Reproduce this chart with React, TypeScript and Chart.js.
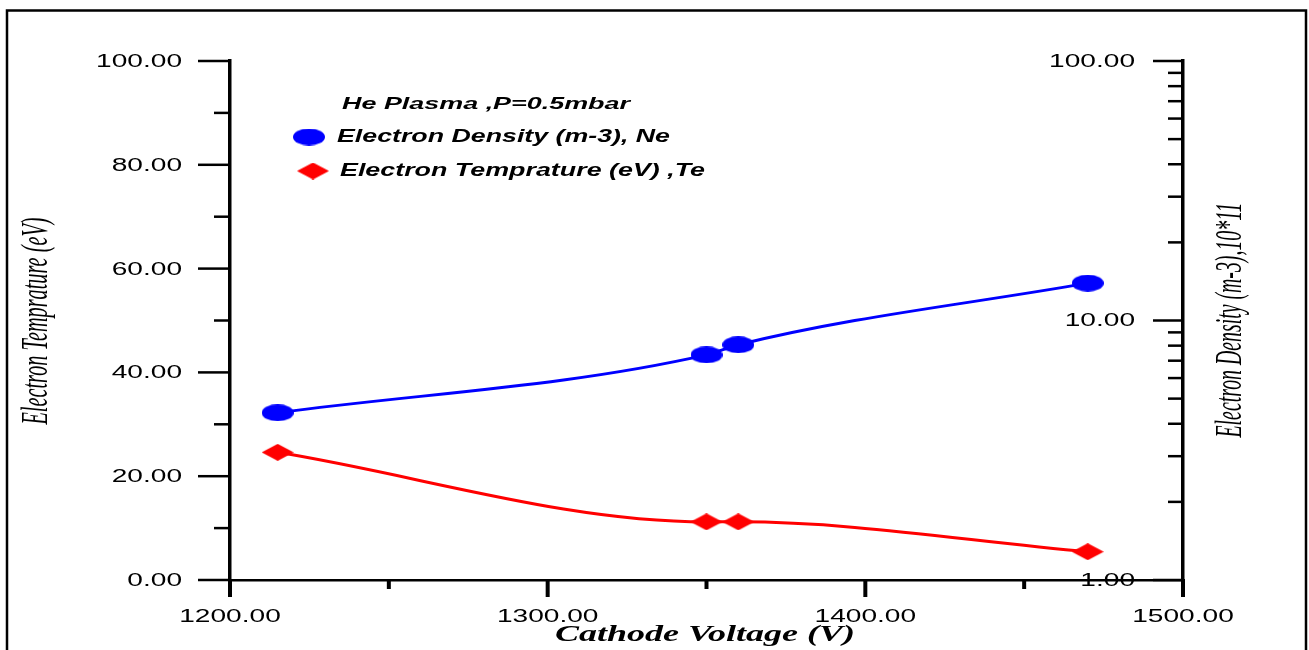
import React, { useEffect, useRef } from 'react';
import { Chart, registerables } from 'chart.js';

Chart.register(...registerables);

// ---- Data ----
const voltage = [1215, 1350, 1360, 1470];
const electronDensity = [4.41, 7.37, 8.06, 13.93];
const electronTemperature = [24.6, 11.2, 11.2, 5.45];

// ---- Ticks ----
const xMajorTicks = [1200, 1300, 1400, 1500];
const xMinorTicks = [1250, 1350, 1450];
const tempMajorTicks = [0, 20, 40, 60, 80, 100];
const tempMinorTicks = [10, 30, 50, 70, 90];
const densityMajorTicks = [1, 10, 100];
const densityMinorTicks = [2, 3, 4, 5, 6, 7, 8, 9, 20, 30, 40, 50, 60, 70, 80, 90];

// ---- Texts ----
const legendTitle = 'He Plasma ,P=0.5mbar';
const densityLabel = 'Electron Density (m-3), Ne';
const temperatureLabel = 'Electron Temprature (eV) ,Te';
const xTitle = 'Cathode Voltage (V)';
const yLeftTitle = 'Electron Temprature (eV)';
const yRightTitle = 'Electron Density (m-3),10*11';

const BLUE = '#0000ff';
const RED = '#ff0000';

function makeMarker(shape: string, color: string, w: number, h: number) {
  const c = document.createElement('canvas');
  c.width = w;
  c.height = h;
  const g = c.getContext('2d')!;
  g.fillStyle = color;
  g.beginPath();
  if (shape === 'ellipse') {
    g.ellipse(w / 2, h / 2, w / 2, h / 2, 0, 0, Math.PI * 2);
  } else {
    g.moveTo(w / 2, 0);
    g.lineTo(w, h / 2);
    g.lineTo(w / 2, h);
    g.lineTo(0, h / 2);
    g.closePath();
  }
  g.fill();
  return c;
}

function textH(ctx: CanvasRenderingContext2D, text: string, x: number, y: number, font: string, align: CanvasTextAlign, opts: { sx?: number; width?: number }) {
  ctx.save();
  ctx.font = font;
  const w = ctx.measureText(text).width;
  const sx = opts.width ? opts.width / w : opts.sx || 1;
  ctx.translate(x, y);
  ctx.scale(sx, 1);
  ctx.textAlign = align;
  ctx.textBaseline = 'middle';
  ctx.fillText(text, 0, 0);
  ctx.restore();
}

function textV(ctx: CanvasRenderingContext2D, text: string, cx: number, cy: number, font: string, thick: number, length: number) {
  ctx.save();
  ctx.font = font;
  const w = ctx.measureText(text).width;
  ctx.translate(cx, cy);
  ctx.scale(thick, length / w);
  ctx.rotate(-Math.PI / 2);
  ctx.textAlign = 'center';
  ctx.textBaseline = 'middle';
  ctx.fillText(text, 0, 0);
  ctx.restore();
}

function line(ctx: CanvasRenderingContext2D, x1: number, y1: number, x2: number, y2: number, w: number) {
  ctx.lineWidth = w;
  ctx.beginPath();
  ctx.moveTo(x1, y1);
  ctx.lineTo(x2, y2);
  ctx.stroke();
}

const fmt = (v: number) => v.toFixed(2);

export default function App() {
  const ref = useRef<HTMLCanvasElement | null>(null);

  useEffect(() => {
    const canvas = ref.current!;
    const blueMarker = makeMarker('ellipse', BLUE, 32, 17);
    const redMarker = makeMarker('diamond', RED, 32, 17);

    const TICK_FONT = '18px "Liberation Sans", Arial, sans-serif';
    const TICK_SX = 1.56;
    const VTITLE_FONT = 'italic 24px "Liberation Serif", "Times New Roman", serif';

    const decor = {
      id: 'decor',
      afterDraw(chart: any) {
        const ctx: CanvasRenderingContext2D = chart.ctx;
        const xs = chart.scales.x;
        const yl = chart.scales.y;
        const yr = chart.scales.y1;
        const { left: L, right: R, bottom: B } = chart.chartArea;
        ctx.save();
        ctx.strokeStyle = '#000';
        ctx.fillStyle = '#000';
        ctx.lineCap = 'butt';

        // outer frame
        ctx.lineWidth = 2.5;
        ctx.beginPath();
        ctx.moveTo(7, 652);
        ctx.lineTo(7, 10.5);
        ctx.lineTo(1306, 10.5);
        ctx.lineTo(1306, 652);
        ctx.stroke();

        // x ticks
        xMajorTicks.forEach((v) => {
          const px = xs.getPixelForValue(v);
          line(ctx, px, B - 1, px, B + 17, 4);
          textH(ctx, fmt(v), px, 617, TICK_FONT, 'center', { sx: TICK_SX });
        });
        xMinorTicks.forEach((v) => {
          const px = xs.getPixelForValue(v);
          line(ctx, px, B, px, B + 9, 4);
        });

        // left y ticks
        tempMajorTicks.forEach((v) => {
          const py = yl.getPixelForValue(v);
          line(ctx, L - 32, py, L, py, 2.5);
          textH(ctx, fmt(v), 182, py + 1, TICK_FONT, 'right', { sx: TICK_SX });
        });
        tempMinorTicks.forEach((v) => {
          const py = yl.getPixelForValue(v);
          line(ctx, L - 16, py, L, py, 2.5);
        });

        // right y ticks (inward)
        densityMajorTicks.forEach((v) => {
          const py = yr.getPixelForValue(v);
          line(ctx, R - 30, py, R, py, 2.5);
          textH(ctx, fmt(v), 1135, py + 1, TICK_FONT, 'right', { sx: TICK_SX });
        });
        densityMinorTicks.forEach((v) => {
          const py = yr.getPixelForValue(v);
          line(ctx, R - 15, py, R, py, 2.5);
        });

        // axis titles
        textV(ctx, yLeftTitle, 37, 321, VTITLE_FONT, 1.6, 207);
        textV(ctx, yRightTitle, 1231, 320, VTITLE_FONT, 1.6, 235);
        textH(ctx, xTitle, 555, 635, 'bold italic 23px "Liberation Serif", "Times New Roman", serif', 'left', { width: 300 });

        // legend
        const LF = 'bold italic 18px "Liberation Sans", Arial, sans-serif';
        textH(ctx, legendTitle, 342, 104, 'bold italic 17px "Liberation Sans", Arial, sans-serif', 'left', { width: 288 });
        ctx.drawImage(blueMarker, 309 - 16, 137 - 8.5);
        textH(ctx, densityLabel, 337, 137, LF, 'left', { width: 333 });
        ctx.drawImage(redMarker, 313 - 16, 171 - 8.5);
        textH(ctx, temperatureLabel, 340, 171, LF, 'left', { width: 365 });

        ctx.restore();
      },
    };

    const chart = new Chart(canvas, {
      type: 'line',
      data: {
        datasets: [
          {
            label: densityLabel,
            data: voltage.map((v, i) => ({ x: v, y: electronDensity[i] })),
            yAxisID: 'y1',
            borderColor: BLUE,
            backgroundColor: BLUE,
            borderWidth: 3,
            cubicInterpolationMode: 'monotone',
            pointStyle: blueMarker as any,
            pointRadius: 10,
            fill: false,
          },
          {
            label: temperatureLabel,
            data: voltage.map((v, i) => ({ x: v, y: electronTemperature[i] })),
            yAxisID: 'y',
            borderColor: RED,
            backgroundColor: RED,
            borderWidth: 3,
            cubicInterpolationMode: 'monotone',
            pointStyle: redMarker as any,
            pointRadius: 10,
            fill: false,
          },
        ],
      },
      options: {
        animation: false,
        responsive: false,
        maintainAspectRatio: false,
        layout: { padding: { top: 61, left: 0, right: 0, bottom: 0 }, autoPadding: false },
        plugins: {
          legend: { display: false },
          tooltip: { enabled: false },
          title: { display: false },
        },
        scales: {
          x: {
            type: 'linear',
            position: 'bottom',
            min: 1200,
            max: 1500,
            grid: { display: false },
            ticks: { display: false },
            border: { display: true, color: '#000', width: 2.5 },
            afterFit: (s: any) => {
              s.height = 70;
            },
          },
          y: {
            type: 'linear',
            position: 'left',
            min: 0,
            max: 100,
            grid: { display: false },
            ticks: { display: false },
            border: { display: true, color: '#000', width: 3.5 },
            afterFit: (s: any) => {
              s.width = 230;
            },
          },
          y1: {
            type: 'logarithmic',
            position: 'right',
            min: 1,
            max: 100,
            grid: { display: false },
            ticks: { display: false },
            border: { display: true, color: '#000', width: 3.5 },
            afterFit: (s: any) => {
              s.width = 126;
            },
          },
        },
      } as any,
      plugins: [decor],
    });

    return () => chart.destroy();
  }, []);

  return (
    <div style={{ position: 'fixed', left: 0, top: 0, width: 1309, height: 650, background: '#fff' }}>
      <canvas ref={ref} width={1309} height={650} style={{ display: 'block' }} />
    </div>
  );
}
